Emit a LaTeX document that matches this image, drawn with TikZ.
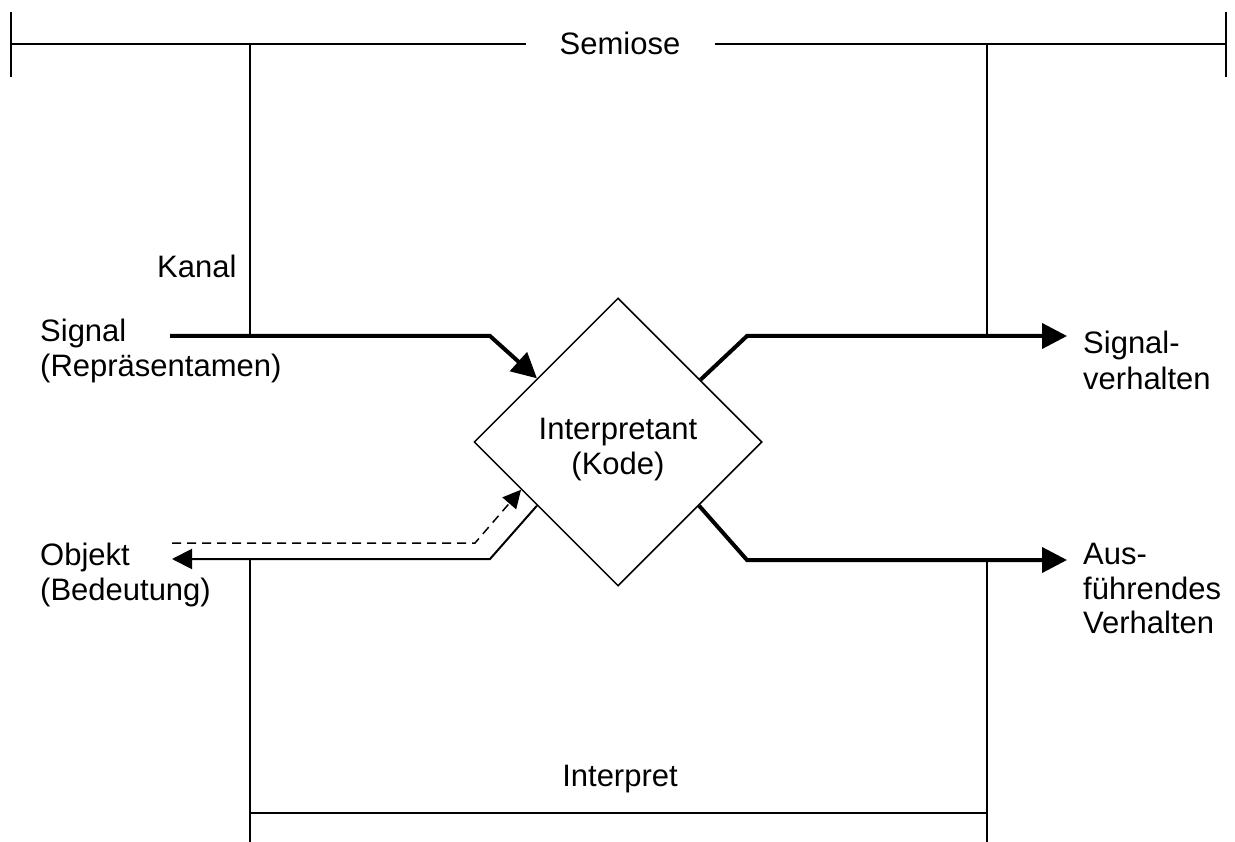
\documentclass[tikz,border=0pt]{standalone}
\usepackage{fontspec}
\setmainfont{Liberation Sans}
\usetikzlibrary{arrows.meta,shapes.geometric,calc}

\begin{document}
\begin{tikzpicture}[x=1pt,y=-1pt,
  every node/.style={font=\fontsize{31}{35}\selectfont, inner sep=0pt},
  rule/.style={line width=2pt},
  flow/.style={line width=4pt, -{Triangle[length=25pt,width=25pt]}},
  back/.style={line width=2pt, -{Triangle[length=20pt,width=20pt]}},
  hint/.style={line width=1.5pt, dash pattern=on 9pt off 6pt, -{Triangle[length=18pt,width=18pt]}},
  lbl/.style={anchor=base west},
  ctr/.style={anchor=base},
  ]
\useasboundingbox (0,0) rectangle (1235,842);

% the code (interpretant) as a diamond
\node[draw, diamond, minimum width=288pt, minimum height=288pt, line width=1.5pt] (dia) at (618,442) {};
\node[ctr] (itp) at (618,439) {Interpretant};
\node[ctr] (kode) at (618,474) {(Kode)};

% semiosis bracket on top
\node[ctr, inner xsep=34pt] (sem) at (620,55) {Semiose};
\coordinate (tl) at (11,44);
\coordinate (tr) at (1226,44);
\draw[rule] (tl) -- (tl -| sem.west);
\draw[rule] (tr) -- (tr -| sem.east);
\draw[rule] (11,12) -- (11,77);
\draw[rule] (1226,12) -- (1226,77);

% channel and the upper brackets
\coordinate (kTop) at (250,44);
\coordinate (kBot) at (250,336);
\coordinate (rTop) at (987,44);
\coordinate (rBot) at (987,336);
\draw[rule] (kTop) -- (kBot);
\draw[rule] (rTop) -- (rBot);
\node[lbl] (kanal) at (157,278) {Kanal};

% interpreter bracket at the bottom
\coordinate (iL) at (250,559);
\coordinate (iR) at (987,560);
\coordinate (iLb) at (250,842);
\coordinate (iRb) at (987,842);
\draw[rule] (iL) -- (iLb);
\draw[rule] (iR) -- (iRb);
\draw[rule] (250,813) -- (987,813);
\node[ctr] (interpret) at (620,786) {Interpret};

% left labels
\node[lbl] (sig1) at (40,342) {Signal};
\node[lbl] (sig2) at (40,377) {(Repräsentamen)};
\node[lbl] (obj1) at (40,565) {Objekt};
\node[lbl] (obj2) at (40,600) {(Bedeutung)};

% right labels
\node[lbl] (out1) at (1083,354) {Signal-};
\node[lbl] (out2) at (1083,389) {verhalten};
\node[lbl] (act1) at (1083,564) {Aus-};
\node[lbl] (act2) at (1083,599) {führendes};
\node[lbl] (act3) at (1083,633) {Verhalten};

% connectors
\coordinate (sigIn) at (170,336);
\coordinate (sigBend) at (490,336);
\draw[flow] (sigIn) -- (sigBend) -- ($(dia.west)!0.44!(dia.north)$);

\coordinate (outBend) at (747,336);
\coordinate (outTip) at (1067,336);
\draw[flow] ($(dia.north)!0.57!(dia.east)$) -- (outBend) -- (outTip);

\coordinate (actBend) at (747,560);
\coordinate (actTip) at (1067,560);
\draw[flow] ($(dia.east)!0.44!(dia.south)$) -- (actBend) -- (actTip);

\coordinate (objBend) at (490,559);
\coordinate (objTip) at (172,559);
\draw[back] ($(dia.west)!0.44!(dia.south)$) -- (objBend) -- (objTip);

\coordinate (refStart) at (172,543);
\coordinate (refBend) at (475,543);
\draw[hint] (refStart) -- (refBend) -- ($(dia.west)!0.33!(dia.south)$);
\end{tikzpicture}
\end{document}
